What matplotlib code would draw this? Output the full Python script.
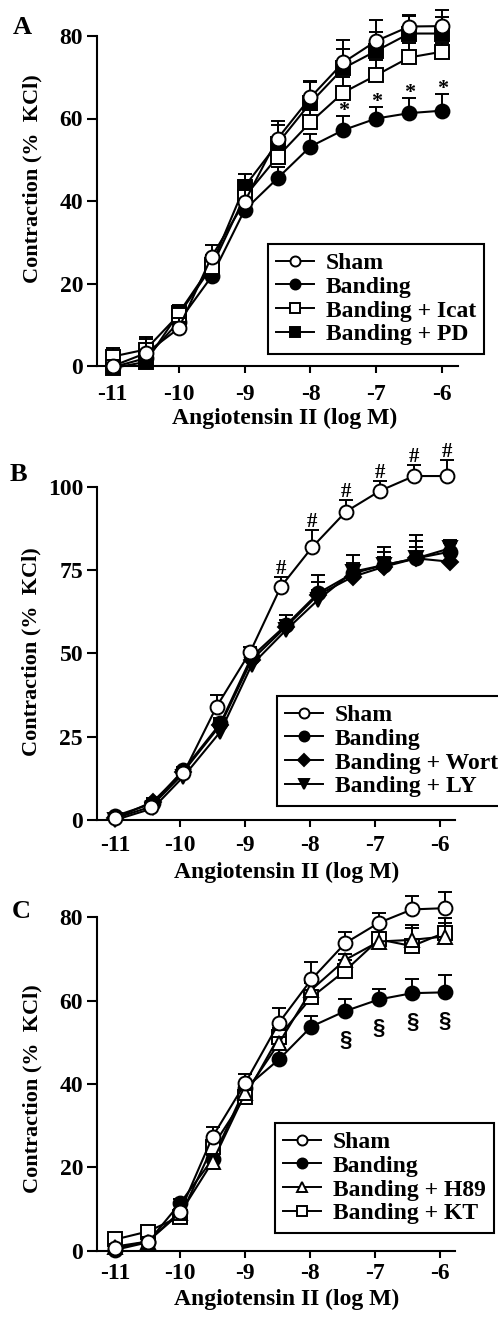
import numpy as np
import matplotlib
matplotlib.use("Agg")
import matplotlib.pyplot as plt
from matplotlib.lines import Line2D

plt.rcParams['font.family'] = ['Liberation Serif', 'DejaVu Serif']
plt.rcParams['font.weight'] = 'bold'

# ---- data ----
xticks = [-11, -10, -9, -8, -7, -6]
xtick_labels = ['-11', '-10', '-9', '-8', '-7', '-6']

# panel A
xA = [-11, -10.5, -10, -9.5, -9, -8.5, -8, -7.5, -7, -6.5, -6]
shamA = [0, 3.1, 9.1, 26.5, 39.8, 55.1, 65.1, 73.6, 78.8, 82.3, 82.4]
shamA_err = [1.5, 4.0, 2.5, 2.8, 5.0, 4.4, 4.0, 5.4, 5.0, 2.5, 3.9]
bandA = [-0.3, 1.9, 10.7, 21.7, 37.8, 45.5, 53.2, 57.2, 60.0, 61.3, 61.9]
bandA_err = [0.5, 1.0, 2.0, 1.5, 1.5, 2.8, 3.0, 3.3, 2.8, 3.7, 4.0]
icatA = [2.3, 4.0, 12.4, 24.0, 41.0, 50.7, 59.1, 66.3, 70.5, 74.8, 76.2]
icatA_err = [2.0, 2.5, 2.0, 2.5, 4.0, 2.5, 3.0, 3.8, 3.8, 3.6, 2.2]
pdA = [-0.5, 1.0, 12.8, 24.5, 43.5, 53.9, 63.8, 72.2, 76.4, 80.6, 80.6]
pdA_err = [0.5, 1.0, 2.0, 2.5, 3.0, 4.6, 5.0, 4.6, 4.6, 4.5, 4.0]
starA_idx = [7, 8, 9, 10]

# panel B
xB_sham = [-11, -10.45, -9.95, -9.44, -8.92, -8.45, -7.97, -7.45, -6.92, -6.4, -5.9]
xB = [-11, -10.42, -9.95, -9.38, -8.9, -8.37, -7.88, -7.34, -6.86, -6.37, -5.85]
shamB = [0.5, 4.0, 14.0, 34.0, 50.5, 70.0, 81.8, 92.5, 98.8, 103.2, 103.2]
shamB_err = [0.5, 1.0, 1.5, 3.5, 1.5, 3.0, 5.2, 3.5, 3.0, 3.3, 4.8]
bandB = [1.2, 5.0, 15.0, 29.0, 49.0, 58.5, 68.0, 74.0, 76.5, 78.5, 80.5]
bandB_err = [0.5, 1.0, 1.0, 1.5, 1.5, 3.0, 3.5, 5.5, 5.5, 7.0, 3.5]
wortB = [0.5, 5.5, 14.5, 28.5, 48.0, 58.0, 67.5, 73.0, 76.0, 78.5, 77.5]
wortB_err = [0.5, 1.0, 1.0, 1.5, 1.5, 2.0, 6.0, 4.0, 4.5, 5.2, 5.7]
lyB = [0.0, 3.5, 13.0, 26.5, 46.5, 57.0, 66.0, 74.5, 76.5, 78.5, 81.5]
lyB_err = [0.5, 1.0, 1.0, 1.5, 1.5, 2.0, 3.0, 2.0, 2.5, 3.5, 1.5]
hashB_idx = [5, 6, 7, 8, 9, 10]

# panel C
xC = [-11, -10.5, -10, -9.5, -9, -8.48, -7.98, -7.46, -6.94, -6.43, -5.93]
shamC = [0.6, 2.2, 9.4, 27.4, 40.2, 54.7, 65.1, 73.8, 78.7, 81.9, 82.2]
shamC_err = [0.5, 1.0, 1.5, 2.2, 2.2, 3.5, 4.3, 2.8, 2.4, 3.2, 4.0]
bandC = [0.2, 2.0, 11.4, 22.0, 39.0, 45.9, 53.8, 57.5, 60.3, 61.8, 62.0]
bandC_err = [0.5, 0.5, 1.0, 1.5, 1.5, 2.7, 2.5, 2.9, 2.6, 3.3, 4.2]
h89C = [1.0, 2.2, 9.0, 21.4, 37.8, 49.8, 62.6, 69.8, 74.2, 74.6, 75.4]
h89C_err = [0.5, 0.5, 1.0, 1.5, 1.5, 1.5, 2.0, 1.4, 2.4, 3.6, 3.2]
ktC = [2.7, 4.6, 8.2, 25.0, 37.0, 51.4, 60.8, 67.2, 74.7, 73.1, 76.3]
ktC_err = [0.5, 0.5, 1.0, 2.0, 1.5, 2.0, 3.4, 2.5, 1.5, 4.3, 3.5]
sectC_idx = [7, 8, 9, 10]

W, H = 498, 1318
fig = plt.figure(figsize=(W / 100, H / 100), dpi=100)


def px_axes(x0, x1, ytop, ybot):
    return fig.add_axes([x0 / W, 1 - ybot / H, (x1 - x0) / W, (ybot - ytop) / H])


def series(ax, x, y, err, marker, filled, label, ms=10, z=2):
    err = np.asarray(err)
    fc = 'black' if filled else 'white'
    line, caps, bars = ax.errorbar(x, y, yerr=[np.zeros_like(err), err], fmt='-', color='black',
                                   lw=1.5, elinewidth=1.4, capsize=5, capthick=1.4,
                                   marker=marker, ms=ms, mew=1.4, mfc=fc, mec='black',
                                   zorder=z, clip_on=False)
    caps[0].set_visible(False)
    for c in caps:
        c.set_clip_on(False)
    for b in bars:
        b.set_clip_on(False)
    # proxy for the legend
    return Line2D([], [], color='black', lw=1.4, marker=marker, ms=ms * 0.72, mew=1.4,
                  mfc=fc, mec='black', label=label)


def style(ax, xlim, ylim, yticks, ytop, xpad):
    ax.set_xlim(*xlim)
    ax.set_ylim(*ylim)
    for s in ['top', 'right']:
        ax.spines[s].set_visible(False)
    for s in ['left', 'bottom']:
        ax.spines[s].set_linewidth(1.5)
    ax.spines['left'].set_bounds(0, ytop)
    ax.set_xticks(xticks)
    ax.set_xticklabels(xtick_labels)
    ax.set_yticks(yticks)
    ax.set_yticklabels([str(v) for v in yticks])
    ax.tick_params(axis='y', direction='out', length=7, width=1.5, pad=3, labelsize=17)
    ax.tick_params(axis='x', direction='out', length=5, width=1.5, pad=xpad, labelsize=17)
    ax.set_xlabel('Angiotensin II (log M)', fontsize=17, fontweight='bold')
    ax.set_ylabel('Contraction (%  KCl)', fontsize=16, fontweight='bold')


def legend(ax, handles, x0, y0):
    leg = ax.legend(handles=handles, loc='upper left', bbox_to_anchor=(x0 / W, 1 - y0 / H),
                    bbox_transform=fig.transFigure, borderaxespad=0, frameon=True, fancybox=False,
                    edgecolor='black', fontsize=17, handlelength=1.6, handletextpad=0.5,
                    labelspacing=0.1, borderpad=0.35)
    leg.get_frame().set_linewidth(1.5)
    leg.get_frame().set_alpha(1)
    leg.set_zorder(10)
    return leg


# ---- panel A ----
axA = px_axes(97, 458, 3, 366)
hB = series(axA, xA, bandA, bandA_err, 'o', True, 'Banding', z=2)
hPD = series(axA, xA, pdA, pdA_err, 's', True, 'Banding + PD', ms=9.5, z=3)
hI = series(axA, xA, icatA, icatA_err, 's', False, 'Banding + Icat', ms=9.5, z=4)
hS = series(axA, xA, shamA, shamA_err, 'o', False, 'Sham', z=5)
style(axA, (-11.24, -5.76), (0, 88), [0, 20, 40, 60, 80], 80, 8)
for i in starA_idx:
    axA.text(xA[i], bandA[i] + bandA_err[i], '*', ha='center', va='baseline', fontsize=16)
legend(axA, [hS, hB, hI, hPD], 268, 244)
axA.xaxis.set_label_coords(0.521, -0.115)
axA.yaxis.set_label_coords(-0.152, 0.515)
fig.text(22 / W, 1 - 27 / H, 'A', fontsize=19, fontweight='bold', ha='center', va='center')

# ---- panel B ----
axB = px_axes(97, 455, 446.7, 820)
hLY = series(axB, xB, lyB, lyB_err, 'v', True, 'Banding + LY', z=2)
hW = series(axB, xB, wortB, wortB_err, 'D', True, 'Banding + Wort', ms=8.5, z=3)
hBB = series(axB, xB, bandB, bandB_err, 'o', True, 'Banding', z=4)
hSB = series(axB, xB_sham, shamB, shamB_err, 'o', False, 'Sham', z=5)
style(axB, (-11.28, -5.77), (0, 112), [0, 25, 50, 75, 100], 100, 6)
for i in hashB_idx:
    axB.text(xB_sham[i], shamB[i] + shamB_err[i] + 0.8, '#', ha='center', va='baseline', fontsize=15)
legend(axB, [hSB, hBB, hW, hLY], 277, 696)
axB.xaxis.set_label_coords(0.53, -0.112)
axB.yaxis.set_label_coords(-0.154, 0.45)
fig.text(18 / W, 1 - 474 / H, 'B', fontsize=19, fontweight='bold', ha='center', va='center')

# ---- panel C ----
axC = px_axes(97, 455, 884, 1250.7)
hBC = series(axC, xC, bandC, bandC_err, 'o', True, 'Banding', z=2)
hKT = series(axC, xC, ktC, ktC_err, 's', False, 'Banding + KT', ms=9.5, z=3)
hH = series(axC, xC, h89C, h89C_err, '^', False, 'Banding + H89', ms=10.5, z=4)
hSC = series(axC, xC, shamC, shamC_err, 'o', False, 'Sham', z=5)
style(axC, (-11.28, -5.77), (0, 88), [0, 20, 40, 60, 80], 80, 4)
for i in sectC_idx:
    axC.text(xC[i], bandC[i] - 7, '§', ha='center', va='center', fontsize=16,
             family=['Liberation Sans', 'DejaVu Sans'], fontweight='bold')
legend(axC, [hSC, hBC, hH, hKT], 275, 1123)
axC.xaxis.set_label_coords(0.53, -0.103)
axC.yaxis.set_label_coords(-0.152, 0.441)
fig.text(21 / W, 1 - 912 / H, 'C', fontsize=19, fontweight='bold', ha='center', va='center')

fig.savefig('out.png', dpi=100)
